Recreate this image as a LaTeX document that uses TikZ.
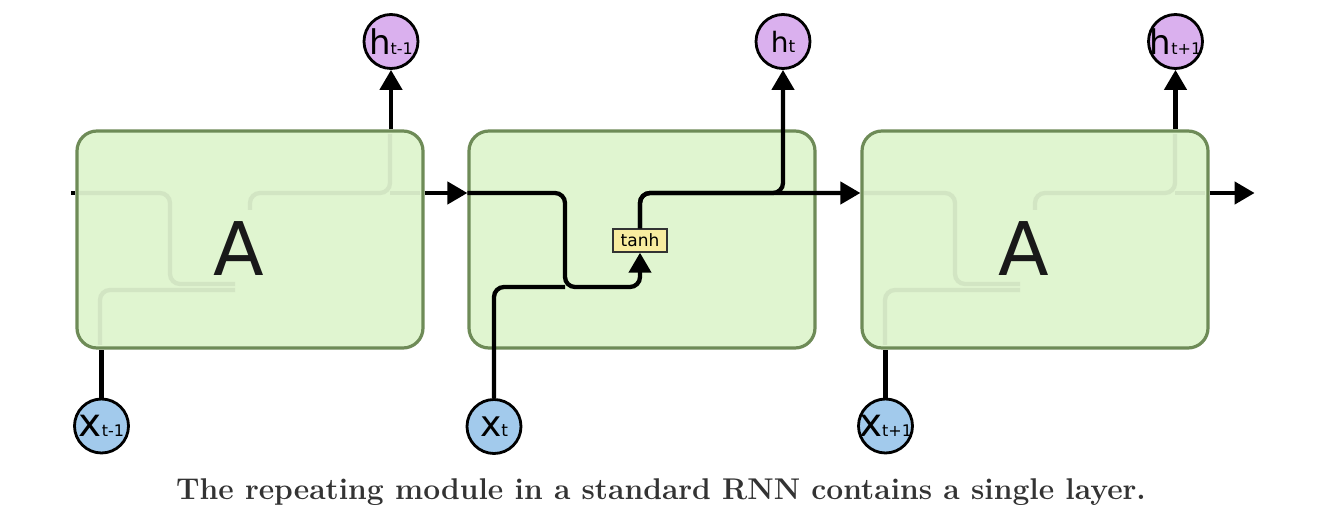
\documentclass[tikz,border=0pt]{standalone}
\usepackage{fontspec}
\newfontfamily\dvs{DejaVu Sans}
\usetikzlibrary{arrows.meta}
\definecolor{boxfill}{HTML}{E0F5D0}
\definecolor{boxdraw}{HTML}{6E8B57}
\definecolor{hfill}{HTML}{DAB0EE}
\definecolor{xfill}{HTML}{A2CAEC}
\definecolor{tanhfill}{HTML}{F8EC9F}
\definecolor{faint}{HTML}{D2E5C3}
\definecolor{captc}{HTML}{333333}
\newcommand\circlab[4]{{\dvs\fontsize{#1}{#1}\selectfont #2\fontsize{#4}{#4}\selectfont #3}}
\begin{document}
\begin{tikzpicture}[x=1pt,y=-1pt,
 cell/.style={draw=boxdraw, fill=boxfill, line width=3.2pt, rounded corners=20pt, minimum width=346pt, minimum height=217pt, inner sep=0pt},
 hnode/.style={circle, draw=black, line width=2.8pt, fill=hfill, minimum size=54pt, inner sep=0pt},
 xnode/.style={circle, draw=black, line width=2.8pt, fill=xfill, minimum size=54pt, inner sep=0pt},
 wire/.style={line width=4.3pt, draw=black},
 arr/.style={wire, -{Triangle[length=20pt,width=22pt]}},
 ghost/.style={line width=4.3pt, draw=faint, rounded corners=10pt},
 bigA/.style={font=\dvs\fontsize{74}{74}\selectfont, text=black!90, inner sep=0pt},
 tanhbox/.style={draw=black!80, line width=1.4pt, fill=tanhfill, minimum width=54pt, minimum height=23pt, inner sep=0pt, font=\dvs\fontsize{17}{17}\selectfont},
 caption/.style={font=\bfseries\fontsize{30}{36}\selectfont, text=captc, inner sep=0pt}
]
\useasboundingbox (0,0) rectangle (1323,526);

% cells
\node[cell] (A1) at (250,239.5) {};
\node[cell] (A2) at (642,239.5) {};
\node[cell] (A3) at (1035,239.5) {};

% faint inner flow of the outer cells
\foreach \dx in {0,785} {
  \draw[ghost] ({79+\dx},193) -- ({170+\dx},193) -- ({170+\dx},284) -- ({235+\dx},284);
  \draw[ghost] ({100+\dx},345) -- ({100+\dx},290) -- ({235+\dx},290);
  \draw[ghost] ({250+\dx},210) -- ({250+\dx},193) -- ({390+\dx},193) -- ({390+\dx},134);
  \draw[ghost] ({390+\dx},193) -- ({420+\dx},193);
}

\node[bigA] (A1t) at (239,249) {A};
\node[bigA] (A3t) at (1024,249) {A};

% circles
\node[hnode, label={center:\circlab{34}{h}{t-1}{16}}] (h1) at (391,41.5) {};
\node[hnode, label={center:\circlab{28}{h}{t}{17}}] (h2) at (783,41.5) {};
\node[hnode, label={center:\circlab{34}{h}{t+1}{16}}] (h3) at (1175.5,41.5) {};
\node[xnode, label={center:\circlab{39}{x}{t-1}{16}}] (x1) at (101.5,426) {};
\node[xnode, label={center:\circlab{36}{x}{t}{17}}] (x2) at (494,426.5) {};
\node[xnode, label={center:\circlab{39}{x}{t+1}{16}}] (x3) at (885.5,426) {};

% tanh layer
\node[tanhbox] (tanh) at (640,240.5) {tanh};

\coordinate (j) at (565,287);
\coordinate (s) at (783,193);

% outer cell connectors
\draw[wire] (x1.north) -- (x1.north |- A1.south);
\draw[wire] (x3.north) -- (x3.north |- A3.south);
\draw[arr] (h1 |- A1.north) -- (h1.south);
\draw[arr] (h3 |- A3.north) -- (h3.south);
\draw[wire] ([yshift=46.5pt]A1.west) -- ++(-4,0);
\draw[arr] ([yshift=46.5pt]A1.east) -- ([yshift=46.5pt]A2.west);
\draw[arr] ([yshift=46.5pt]A3.east) -- ++(45,0);

% middle cell
\draw[wire, rounded corners=10pt] (x2.north) |- (j);
\draw[arr, rounded corners=10pt] ([yshift=46.5pt]A2.west) -| (j) -| (tanh.south);
\draw[arr, rounded corners=10pt] (tanh.north) |- ([yshift=46.5pt]A3.west);
\draw[arr, rounded corners=10pt] (tanh.north) |- (s) -- (h2.south);

% caption
\node[caption] (cap) at (661,492) {The repeating module in a standard RNN contains a single layer.};
\end{tikzpicture}
\end{document}
